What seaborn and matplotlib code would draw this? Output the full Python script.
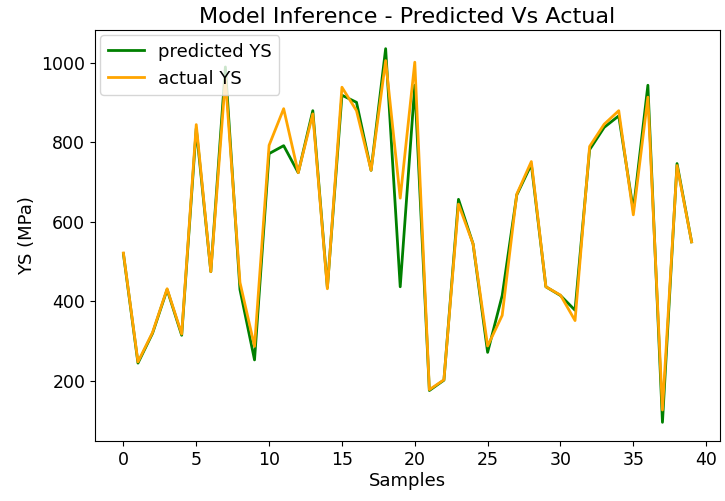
import numpy as np
import pandas as pd
import matplotlib
matplotlib.use("Agg")
import matplotlib.pyplot as plt
import seaborn as sns

# values
samples = list(range(40))
predicted_ys = [520, 245, 320, 430, 315, 835, 475, 990, 430, 253,
                772, 792, 724, 880, 435, 919, 901, 730, 1036, 437,
                944, 176, 202, 657, 545, 272, 415, 668, 745, 437,
                415, 378, 782, 838, 867, 630, 944, 96, 747, 550]
actual_ys = [522, 248, 322, 432, 318, 845, 475, 960, 448, 287,
             793, 885, 724, 872, 432, 939, 880, 730, 1006, 660,
             1002, 178, 203, 645, 545, 288, 365, 670, 752, 437,
             416, 352, 790, 846, 880, 618, 914, 127, 742, 550]

plt.rcParams['font.family'] = ['DejaVu Sans']
fig = plt.figure(figsize=(7.25, 5.01), dpi=100)
ax = fig.add_axes([95/725, 1 - 441/501, 625/725, 411/501])

sns.lineplot(x=samples, y=predicted_ys, color='green', linewidth=2,
             label='predicted YS', ax=ax)
sns.lineplot(x=samples, y=actual_ys, color='orange', linewidth=2,
             label='actual YS', ax=ax)

ax.set_title('Model Inference - Predicted Vs Actual', fontsize=16, pad=5)
ax.set_xlabel('Samples', fontsize=13, labelpad=2)
ax.set_ylabel('YS (MPa)', fontsize=13)
ax.tick_params(labelsize=12.5)
ax.legend(loc='upper left', fontsize=13, borderaxespad=0.3)

fig.savefig('out.png', dpi=100)
